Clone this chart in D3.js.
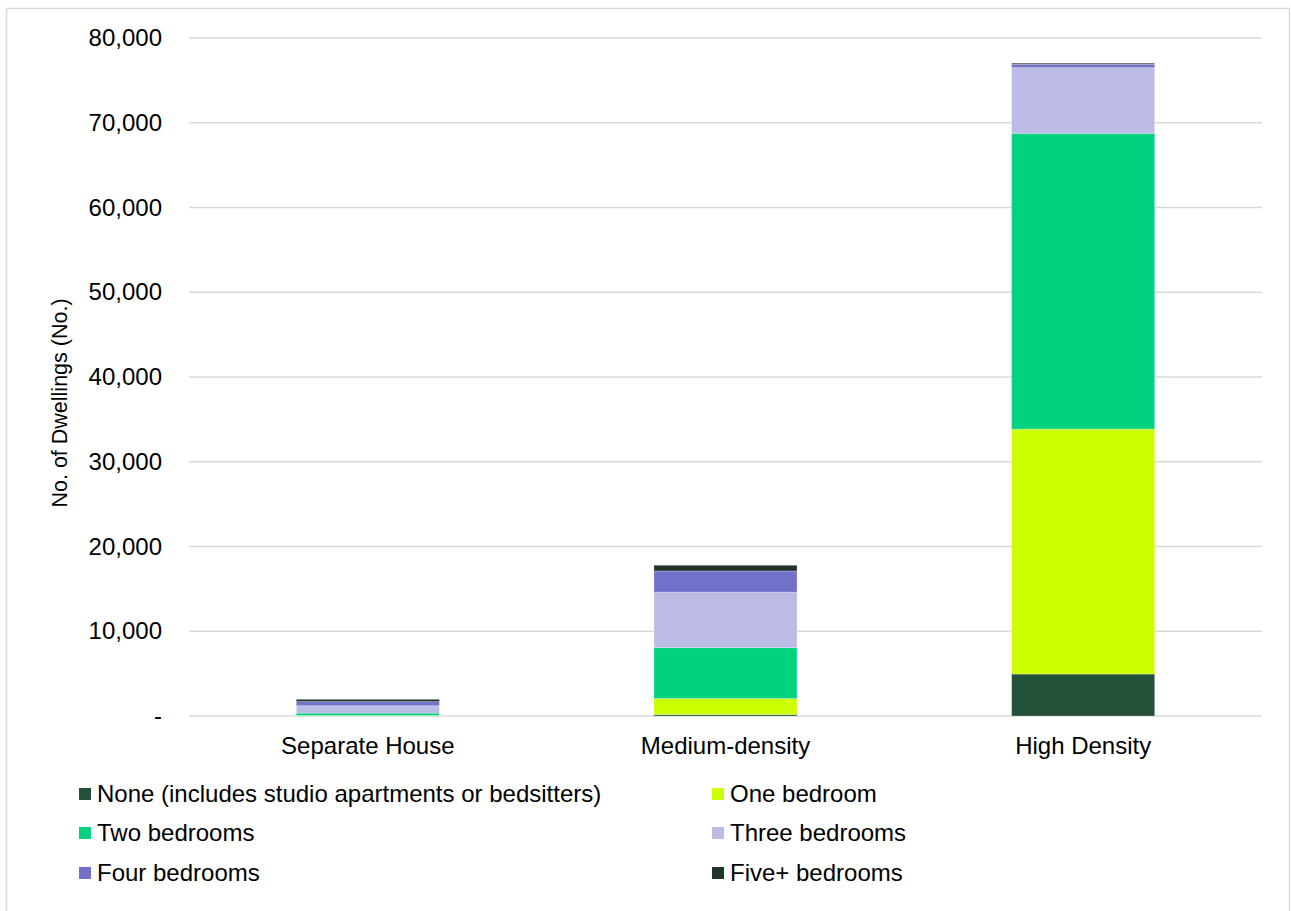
<!DOCTYPE html>
<html>
<head>
<meta charset="utf-8">
<script src="https://cdn.jsdelivr.net/npm/d3@7"></script>
<style>
  html, body { margin: 0; padding: 0; background: #fff; }
  svg { display: block; font-family: "Liberation Sans", Arial, sans-serif; }
</style>
</head>
<body>
<svg id="chart" width="1291" height="911"></svg>
<script>
// Dwelling type categories
const categories = ["Separate House", "Medium-density", "High Density"];

// Bedroom series (number of dwellings per dwelling type)
const seriesNames = [
  "None (includes studio apartments or bedsitters)",
  "One bedroom",
  "Two bedrooms",
  "Three bedrooms",
  "Four bedrooms",
  "Five+ bedrooms"
];
const noneBedroom  = [20, 170, 4950];
const oneBedroom   = [40, 1890, 28900];
const twoBedrooms  = [280, 6000, 34900];
const threeBedrooms = [870, 6550, 7750];
const fourBedrooms = [480, 2500, 400];
const fivePlusBedrooms = [280, 680, 130];

const seriesColors = ["#245139", "#ccff00", "#00d27f", "#bcbbe5", "#7370c9", "#22352a"];

// Axis ticks
const tickValues = [0, 10000, 20000, 30000, 40000, 50000, 60000, 70000, 80000];
const tickLabels = ["-", "10,000", "20,000", "30,000", "40,000", "50,000", "60,000", "70,000", "80,000"];

const seriesValues = [noneBedroom, oneBedroom, twoBedrooms, threeBedrooms, fourBedrooms, fivePlusBedrooms];
const rows = categories.map((c, i) => {
  const r = { category: c };
  seriesNames.forEach((s, j) => { r[s] = seriesValues[j][i]; });
  return r;
});

const svg = d3.select("#chart");
const font = 24;

// outer frame
svg.append("rect")
  .attr("x", 6.5).attr("y", 8.5)
  .attr("width", 1283).attr("height", 920)
  .attr("fill", "none").attr("stroke", "#d9d9d9").attr("stroke-width", 1.5);

const plot = { left: 189, right: 1262, top: 38, bottom: 716 };

const x = d3.scaleBand()
  .domain(categories)
  .range([plot.left, plot.right])
  .paddingInner(0.6)
  .paddingOuter(0.3);

const y = d3.scaleLinear()
  .domain([0, 80000])
  .range([plot.bottom, plot.top]);

// gridlines
svg.append("g")
  .selectAll("line")
  .data(tickValues)
  .join("line")
  .attr("x1", plot.left).attr("x2", plot.right)
  .attr("y1", d => y(d)).attr("y2", d => y(d))
  .attr("stroke", "#d9d9d9").attr("stroke-width", 1.5);

// y tick labels
const yAxis = d3.axisLeft(y)
  .tickValues(tickValues)
  .tickFormat((d, i) => tickLabels[i])
  .tickSize(0)
  .tickPadding(27);
const yg = svg.append("g").attr("transform", `translate(${plot.left},0)`).call(yAxis);
yg.select(".domain").remove();
yg.selectAll("text")
  .attr("font-size", font)
  .attr("font-family", "Liberation Sans, Arial, sans-serif")
  .attr("fill", "#000");

// stacked bars
const stack = d3.stack().keys(seriesNames);
const stacked = stack(rows);

svg.append("g")
  .selectAll("g")
  .data(stacked)
  .join("g")
  .attr("fill", (d, i) => seriesColors[i])
  .selectAll("rect")
  .data(d => d)
  .join("rect")
  .attr("x", d => x(d.data.category))
  .attr("width", x.bandwidth())
  .attr("y", d => y(d[1]))
  .attr("height", d => y(d[0]) - y(d[1]))
  .attr("stroke", "#ffffff")
  .attr("stroke-opacity", 0.35)
  .attr("stroke-width", 0.75);

// category labels
const xAxis = d3.axisBottom(x).tickSize(0).tickPadding(21);
const xg = svg.append("g").attr("transform", `translate(0,${plot.bottom})`).call(xAxis);
xg.select(".domain").remove();
xg.selectAll("text")
  .attr("font-size", font)
  .attr("font-family", "Liberation Sans, Arial, sans-serif")
  .attr("fill", "#000");

// y axis title
svg.append("text")
  .attr("transform", "translate(67,403) rotate(-90)")
  .attr("text-anchor", "middle")
  .attr("font-size", 21.5)
  .attr("fill", "#000")
  .text("No. of Dwellings (No.)");

// legend
const legendCols = [79, 712];
const legendRows = [794, 833, 873];
const legend = svg.append("g")
  .selectAll("g")
  .data(seriesNames)
  .join("g")
  .attr("transform", (d, i) => `translate(${legendCols[i % 2]},${legendRows[Math.floor(i / 2)]})`);
legend.append("rect")
  .attr("x", 0).attr("y", -6)
  .attr("width", 12).attr("height", 12)
  .attr("fill", (d, i) => seriesColors[i]);
legend.append("text")
  .attr("x", 18).attr("y", 0)
  .attr("dy", "0.35em")
  .attr("font-size", font)
  .attr("fill", "#000")
  .text(d => d);
</script>
</body>
</html>
